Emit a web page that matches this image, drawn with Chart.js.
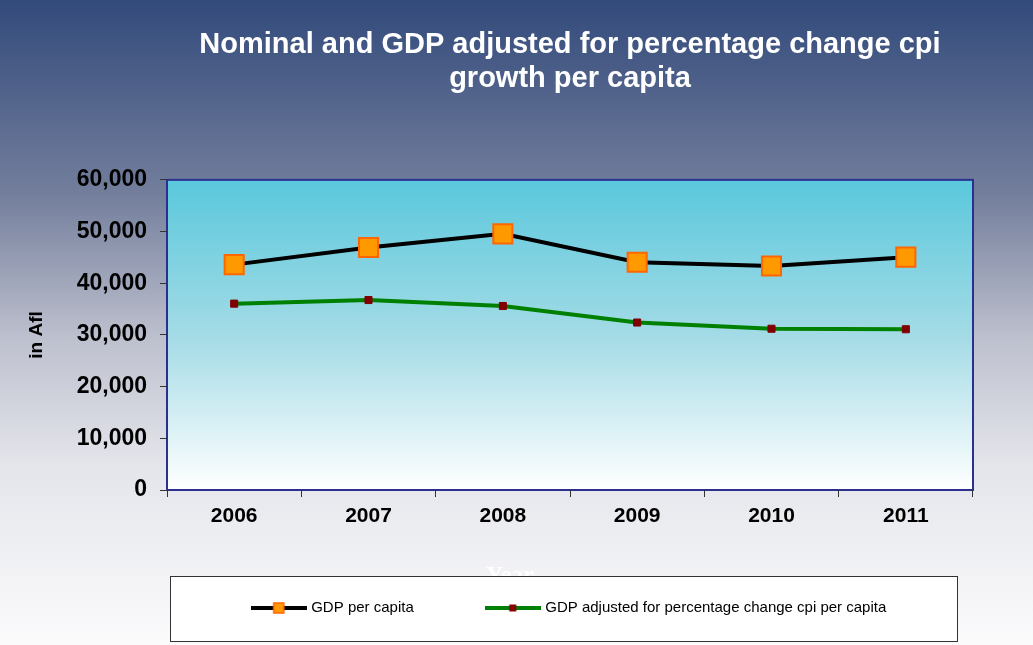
<!DOCTYPE html>
<html>
<head>
<meta charset="utf-8">
<script src="https://cdn.jsdelivr.net/npm/chart.js@4/dist/chart.umd.min.js"></script>
<style>
  html, body { margin: 0; padding: 0; }
  #wrap { width: 1033px; height: 645px; }
</style>
</head>
<body>
<div id="wrap"><canvas id="gdpChart" width="1033" height="645"></canvas></div>
<script>
const years = ['2006', '2007', '2008', '2009', '2010', '2011'];
const gdpPerCapita = [43600, 46900, 49550, 44050, 43350, 45050];
const gdpAdjusted = [36050, 36750, 35600, 32400, 31200, 31100];
const yTicks = [0, 10000, 20000, 30000, 40000, 50000, 60000];

const FONT = 'Arial, "Liberation Sans", sans-serif';

// small line+marker swatches for the legend
function legendSwatch(lineColor, fill, stroke, size) {
  const c = document.createElement('canvas');
  c.width = 56; c.height = 14;
  const g = c.getContext('2d');
  g.strokeStyle = lineColor;
  g.lineWidth = 4;
  g.beginPath(); g.moveTo(0, 7); g.lineTo(56, 7); g.stroke();
  g.fillStyle = fill;
  g.fillRect(28 - size / 2, 7 - size / 2, size, size);
  if (stroke) {
    g.strokeStyle = stroke; g.lineWidth = 1.5;
    g.strokeRect(28 - size / 2, 7 - size / 2, size, size);
  }
  return c;
}
const swatches = [
  legendSwatch('#000000', '#ff9900', '#ff6600', 10),
  legendSwatch('#008000', '#800000', null, 7)
];

const backdrop = {
  id: 'backdrop',
  beforeDraw(chart) {
    const {ctx, width, height, chartArea: a} = chart;
    ctx.save();
    const bg = ctx.createLinearGradient(0, 0, 0, height);
    bg.addColorStop(0, '#324a7b');
    bg.addColorStop(0.3, '#737e9c');
    bg.addColorStop(0.52, '#bcbfcd');
    bg.addColorStop(0.72, '#e4e5eb');
    bg.addColorStop(1, '#fbfbfc');
    ctx.fillStyle = bg;
    ctx.fillRect(0, 0, width, height);

    const pg = ctx.createLinearGradient(0, a.top, 0, a.bottom);
    pg.addColorStop(0, '#5ac8dc');
    pg.addColorStop(0.5, '#a3dbe6');
    pg.addColorStop(1, '#ffffff');
    ctx.fillStyle = pg;
    ctx.fillRect(a.left, a.top, a.right - a.left, a.bottom - a.top);
    ctx.strokeStyle = '#2b2f8f';
    ctx.lineWidth = 2;
    ctx.strokeRect(a.left, a.top, a.right - a.left, a.bottom - a.top);

    // axis caption, partly hidden under the legend frame
    ctx.fillStyle = '#ffffff';
    ctx.font = 'bold 24px "Liberation Serif", "Times New Roman", serif';
    ctx.textAlign = 'center';
    ctx.textBaseline = 'middle';
    ctx.fillText('Year', 510, 576);

    // legend frame
    ctx.fillStyle = '#ffffff';
    ctx.fillRect(170, 576, 787, 65);
    ctx.strokeStyle = '#333333';
    ctx.lineWidth = 1;
    ctx.strokeRect(170.5, 576.5, 787, 65);
    ctx.restore();
  }
};

new Chart(document.getElementById('gdpChart'), {
  type: 'line',
  data: {
    labels: years,
    datasets: [
      {
        label: 'GDP per capita',
        data: gdpPerCapita,
        borderColor: '#000000',
        borderWidth: 4,
        pointStyle: 'rect',
        pointRadius: 13.5,
        pointBackgroundColor: '#ff9900',
        pointBorderColor: '#ff6600',
        pointBorderWidth: 2,
        tension: 0
      },
      {
        label: 'GDP adjusted for percentage change cpi per capita',
        data: gdpAdjusted,
        borderColor: '#008000',
        borderWidth: 4,
        pointStyle: 'rect',
        pointRadius: 5,
        pointBackgroundColor: '#800000',
        pointBorderColor: '#800000',
        pointBorderWidth: 1,
        tension: 0
      }
    ]
  },
  options: {
    responsive: false,
    animation: false,
    layout: { padding: { left: 0, right: 60, top: 0, bottom: 19.5 } },
    plugins: {
      title: {
        display: true,
        fullSize: false,
        text: ['Nominal and GDP adjusted for percentage change cpi', 'growth per capita'],
        color: '#ffffff',
        font: { family: FONT, size: 29, weight: 'bold', lineHeight: 1.17 },
        padding: { top: 28, bottom: 84 }
      },
      legend: {
        position: 'bottom',
        fullSize: false,
        labels: {
          color: '#000000',
          font: { family: FONT, size: 15 },
          padding: 74,
          usePointStyle: true,
          pointStyleWidth: 50,
          generateLabels: chart => chart.data.datasets.map((ds, i) => ({
            text: ds.label,
            pointStyle: swatches[i],
            datasetIndex: i,
            hidden: false,
            lineWidth: 0
          }))
        }
      },
      tooltip: { enabled: false }
    },
    scales: {
      x: {
        offset: true,
        grid: { display: true, drawOnChartArea: false, drawTicks: true, tickLength: 7, color: '#333333', offset: true },
        border: { display: false },
        ticks: { color: '#000000', padding: 7, font: { family: FONT, size: 21, weight: 'bold' } },
        afterFit: s => { s.height = 36.5; }
      },
      y: {
        min: 0,
        max: 60000,
        afterBuildTicks: s => { s.ticks = yTicks.map(v => ({ value: v })); },
        grid: { display: true, drawOnChartArea: false, drawTicks: true, tickLength: 7, color: '#333333' },
        border: { display: false },
        ticks: {
          color: '#000000',
          padding: 13,
          font: { family: FONT, size: 23, weight: 'bold' },
          callback: v => v.toLocaleString('en-US')
        },
        title: {
          display: true,
          text: 'in Afl',
          color: '#000000',
          font: { family: FONT, size: 19, weight: 'bold', lineHeight: 1.2 },
          padding: { top: 25, bottom: 0 }
        },
        afterFit: s => { s.width = 167; }
      }
    }
  },
  plugins: [backdrop]
});
</script>
</body>
</html>
